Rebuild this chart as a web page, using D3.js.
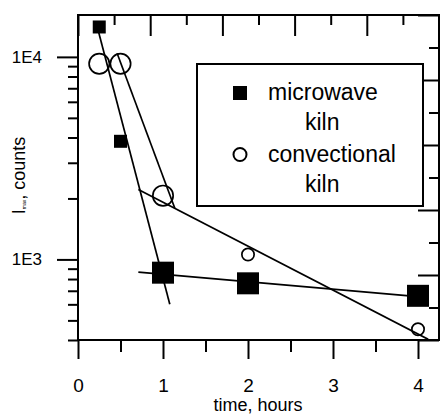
<!DOCTYPE html>
<html><head><meta charset="utf-8">
<script src="https://cdn.jsdelivr.net/npm/d3@7"></script>
<style>
body{margin:0;background:#fff}
svg{display:block}
text{font-family:"Liberation Sans",Arial,Helvetica,sans-serif;fill:#000}
</style>
</head><body>
<svg id="chart" width="440" height="415"></svg>
<script>
// ---------- data ----------
const mwTime   = [0.25, 0.5, 1, 2, 4];
const mwCounts = [14050, 3830, 860, 762, 661];
const cvTime   = [0.25, 0.5, 1, 2, 4];
const cvCounts = [9250, 9250, 2065, 1058, 452];
// fitted lines: [time, counts] end points
const mwFitSteep   = [[0.22, 14400], [1.08, 600]];
const mwFitFlat    = [[0.71, 866], [4.1, 650]];
const cvFitSteep   = [[0.46, 10420], [1.14, 1783]];
const cvFitShallow = [[0.71, 2213], [4.12, 403]];
const xTickValues  = [0, 1, 2, 3, 4];
const xMinorValues = [0.5, 1.5, 2.5, 3.5];
const yTickValues  = [1000, 10000];
const yTickLabels  = ["1E3", "1E4"];
const legendLines  = [["microwave", "kiln"], ["convectional", "kiln"]];
const xLabel = "time, hours";

// ---------- style ----------
const mwMarkerPx = [13, 13, 22, 22, 22];   // square side
const cvMarkerPx = [22, 22, 22, 14, 14];   // circle diameter
const SW = 2, LW = 1.7;

const W = 440, H = 415;
const L = 78, T = 15, R = 439, B = 340;
const svg = d3.select("#chart");

const x = d3.scaleLinear().domain([0, (R - L) / 85]).range([L, R]);
const y = d3.scaleLog().domain([400, 16100]).range([B, T]);
const topS = d3.scaleLinear().domain([0, 10]).range([L, R]);
const rightS = d3.scaleLinear().domain([0, 10]).range([T, B]);

function styleAxis(g) {
  g.select(".domain").remove();
  g.selectAll(".tick line").attr("stroke", "#000").attr("stroke-width", SW);
}

// bottom axis
svg.append("g").attr("transform", `translate(0,${B})`)
  .call(d3.axisBottom(x).tickValues(xTickValues).tickSize(19).tickPadding(20).tickFormat(d3.format("d")))
  .call(styleAxis)
  .call(g => g.selectAll("text").attr("font-size", 19).attr("font-family", null));
svg.append("g").attr("transform", `translate(0,${B})`)
  .call(d3.axisBottom(x).tickValues(xMinorValues).tickSize(12).tickFormat(""))
  .call(styleAxis);

// left axis
svg.append("g").attr("transform", `translate(${L},0)`)
  .call(d3.axisLeft(y).tickValues(yTickValues).tickSize(21).tickPadding(15)
    .tickFormat((d, i) => yTickLabels[i]))
  .call(styleAxis)
  .call(g => g.selectAll("text").attr("font-size", 17).attr("font-family", null));
const yMinor = y.ticks().filter(v => !yTickValues.includes(v));
svg.append("g").attr("transform", `translate(${L},0)`)
  .call(d3.axisLeft(y).tickValues(yMinor).tickSize(10).tickFormat(""))
  .call(styleAxis);

// top axis (inward ticks)
const topMajor = d3.range(0, 11, 2), topMinor = d3.range(1, 10, 2);
svg.append("g").attr("transform", `translate(0,${T})`)
  .call(d3.axisBottom(topS).tickValues(topMajor).tickSize(21).tickFormat("")).call(styleAxis);
svg.append("g").attr("transform", `translate(0,${T})`)
  .call(d3.axisBottom(topS).tickValues(topMinor).tickSize(10).tickFormat("")).call(styleAxis);
// right axis (inward ticks)
svg.append("g").attr("transform", `translate(${R},0)`)
  .call(d3.axisLeft(rightS).tickValues(topMajor).tickSize(21).tickFormat("")).call(styleAxis);
svg.append("g").attr("transform", `translate(${R},0)`)
  .call(d3.axisLeft(rightS).tickValues(topMinor).tickSize(10).tickFormat("")).call(styleAxis);

// frame
svg.append("rect").attr("x", L).attr("y", T).attr("width", R - L).attr("height", B - T)
  .attr("fill", "none").attr("stroke", "#000").attr("stroke-width", SW);

// clip
svg.append("clipPath").attr("id", "plotclip").append("rect")
  .attr("x", L).attr("y", T).attr("width", R - L).attr("height", B - T);
const plot = svg.append("g").attr("clip-path", "url(#plotclip)");

// fit lines
const line = d3.line().x(d => x(d[0])).y(d => y(d[1]));
[mwFitSteep, mwFitFlat, cvFitSteep, cvFitShallow].forEach(seg => {
  plot.append("path").attr("d", line(seg)).attr("fill", "none")
    .attr("stroke", "#000").attr("stroke-width", LW);
});

// markers
const mw = mwTime.map((t, i) => ({t, v: mwCounts[i], s: mwMarkerPx[i]}));
const cv = cvTime.map((t, i) => ({t, v: cvCounts[i], s: cvMarkerPx[i]}));
svg.append("g").selectAll("circle").data(cv).join("circle")
  .attr("cx", d => x(d.t)).attr("cy", d => y(d.v)).attr("r", d => (d.s - LW) / 2)
  .attr("fill", "none").attr("stroke", "#000").attr("stroke-width", LW);
svg.append("g").selectAll("rect").data(mw).join("rect")
  .attr("x", d => x(d.t) - d.s / 2).attr("y", d => y(d.v) - d.s / 2)
  .attr("width", d => d.s).attr("height", d => d.s).attr("fill", "#000");

// legend
const lg = svg.append("g");
lg.append("rect").attr("x", 197).attr("y", 64).attr("width", 226).attr("height", 142)
  .attr("fill", "#fff").attr("stroke", "#000").attr("stroke-width", SW);
lg.append("rect").attr("x", 233).attr("y", 86).attr("width", 14).attr("height", 14).attr("fill", "#000");
lg.append("circle").attr("cx", 240).attr("cy", 154.5).attr("r", 6.5)
  .attr("fill", "none").attr("stroke", "#000").attr("stroke-width", 2);
const legendBase = [[100, 130], [162, 192]];
legendLines.forEach((lines, i) => {
  lg.append("text").attr("x", 268).attr("y", legendBase[i][0]).attr("font-size", 23).text(lines[0]);
  lg.append("text").attr("x", 305).attr("y", legendBase[i][1]).attr("font-size", 23).text(lines[1]);
});

// axis titles
svg.append("text").attr("x", 258).attr("y", 410.5).attr("text-anchor", "middle")
  .attr("font-size", 18).text(xLabel);
const yl = svg.append("text").attr("transform", "translate(25,175.5) rotate(-90)")
  .attr("text-anchor", "middle").attr("font-size", 18);
yl.append("tspan").text("I");
yl.append("tspan").attr("font-size", 5).attr("dy", 1).text("max");
yl.append("tspan").attr("dy", -1).text(", counts");
</script>
</body></html>
